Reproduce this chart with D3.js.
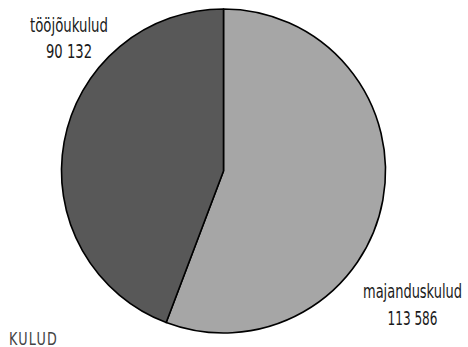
<!DOCTYPE html>
<html><head><meta charset="utf-8">
<script src="https://cdn.jsdelivr.net/npm/d3@7"></script>
<style>
html,body{margin:0;padding:0;background:#fff;}
svg{display:block;}
.lbl{font-family:"DejaVu Sans Condensed","Liberation Sans Narrow","Open Sans",sans-serif;font-weight:400;fill:#1a1a1a;}
.ttl{font-family:"DejaVu Sans Condensed","Liberation Sans Narrow",sans-serif;font-weight:300;fill:#444;}
</style></head>
<body>
<script>
const categories = ["majanduskulud", "tööjõukulud"];
const values = [113586, 90132];
const colors = ["#a6a6a6", "#585858"];
const title = "KULUD";

const W = 468, H = 347;
const cx = 223.5, cy = 171, R = 162;

const svg = d3.select("body").append("svg").attr("width", W).attr("height", H);

const fmt = d3.formatLocale({decimal: ",", thousands: " ", grouping: [3], currency: ["", " €"]}).format(",d");

const pie = d3.pie().sort(null).value(d => d)(values);
const arc = d3.arc().innerRadius(0).outerRadius(R);

const g = svg.append("g").attr("transform", `translate(${cx},${cy})`);
g.selectAll("path").data(pie).enter().append("path")
  .attr("d", arc)
  .attr("fill", (d, i) => colors[i])
  .attr("stroke", "#000")
  .attr("stroke-width", 1.6)
  .attr("stroke-linejoin", "round");

// label layout (positions only)
const labelPos = [
  {x: 412.5, y1: 298, y2: 325, w1: 99, w2: 50},
  {x: 69, y1: 31.5, y2: 57.5, w1: 78, w2: 46}
];

categories.forEach((c, i) => {
  const p = labelPos[i];
  svg.append("text").attr("class", "lbl")
    .attr("x", p.x).attr("y", p.y1).attr("text-anchor", "middle")
    .attr("font-size", 19)
    .attr("textLength", p.w1).attr("lengthAdjust", "spacingAndGlyphs")
    .text(c);
  svg.append("text").attr("class", "lbl")
    .attr("x", p.x).attr("y", p.y2).attr("text-anchor", "middle")
    .attr("font-size", 19)
    .attr("textLength", p.w2).attr("lengthAdjust", "spacingAndGlyphs")
    .text(fmt(values[i]));
});

svg.append("text").attr("class", "ttl")
  .attr("x", 9).attr("y", 344.5)
  .attr("font-size", 17)
  .attr("textLength", 49).attr("lengthAdjust", "spacingAndGlyphs")
  .attr("letter-spacing", 1.5)
  .text(title);
</script>
</body></html>
